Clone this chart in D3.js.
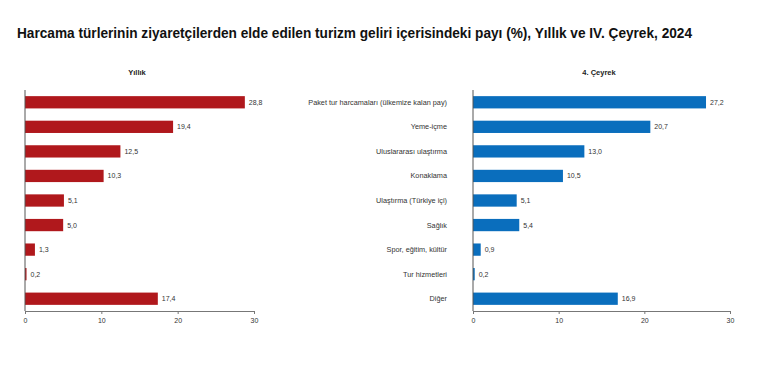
<!DOCTYPE html>
<html><head><meta charset="utf-8">
<script src="https://cdn.jsdelivr.net/npm/d3@7"></script>
<style>body{margin:0;background:#fff}svg{display:block}</style>
</head><body>
<svg id="c" width="765" height="369"></svg>
<script>
const categories = ["Paket tur harcamaları (ülkemize kalan pay)","Yeme-içme","Uluslararası ulaştırma","Konaklama","Ulaştırma (Türkiye içi)","Sağlık","Spor, eğitim, kültür","Tur hizmetleri","Diğer"];
const yillik = [28.8,19.4,12.5,10.3,5.1,5.0,1.3,0.2,17.4];
const ceyrek = [27.2,20.7,13.0,10.5,5.1,5.4,0.9,0.2,16.9];
const ticks = [0,10,20,30];
const title = "Harcama türlerinin ziyaretçilerden elde edilen turizm geliri içerisindeki payı (%), Yıllık ve IV. Çeyrek, 2024";

const svg = d3.select("#c");
svg.append("text").attr("x",17).attr("y",38).text(title)
  .attr("font-family","Liberation Sans Narrow, Arial Narrow, Liberation Sans, sans-serif")
  .attr("font-weight","bold").attr("font-size",15).attr("fill","#111")
  .attr("textLength",675).attr("lengthAdjust","spacingAndGlyphs");

const fmt = v => d3.format(".1f")(v).replace(".",",");

function panel(vals, x0, x1, color, sub, subX, showCats){
  const x = d3.scaleLinear().domain([0,30]).range([x0,x1]);
  const y = d3.scaleBand().domain(categories).range([90,311]).paddingInner(0.5).paddingOuter(0.25);
  const g = svg.append("g");
  g.append("text").attr("x",subX).attr("y",75).attr("text-anchor","middle")
    .attr("font-family","Liberation Sans, Arial, sans-serif").attr("font-weight","bold")
    .attr("font-size",7.5).attr("fill","#222").text(sub);
  g.selectAll("rect").data(vals).join("rect")
    .attr("x",x(0)).attr("y",(d,i)=>y(categories[i]))
    .attr("width",d=>x(d)-x(0)).attr("height",y.bandwidth())
    .attr("fill",color);
  g.selectAll("text.v").data(vals).join("text").attr("class","v")
    .attr("x",d=>x(d)+4).attr("y",(d,i)=>y(categories[i])+y.bandwidth()/2+2.5)
    .attr("font-family","Liberation Sans, Arial, sans-serif").attr("font-size",7)
    .attr("fill","#333").text(fmt);
  if(showCats){
    g.selectAll("text.c").data(categories).join("text").attr("class","c")
      .attr("x",x0-26).attr("y",d=>y(d)+y.bandwidth()/2+2.5).attr("text-anchor","end")
      .attr("font-family","Liberation Sans, Arial, sans-serif").attr("font-size",7.3)
      .attr("fill","#333").text(d=>d);
  }
  const ax = g.append("g").attr("transform",`translate(0,311)`)
    .call(d3.axisBottom(x).tickValues(ticks).tickSize(3).tickFormat(d3.format("d")));
  ax.select(".domain").attr("stroke","#777");
  ax.selectAll(".tick line").attr("stroke","#777");
  ax.selectAll("text").attr("font-family","Liberation Sans, Arial, sans-serif").attr("font-size",7).attr("fill","#333").attr("dy","0.9em");
  g.append("line").attr("x1",x0).attr("x2",x0).attr("y1",90).attr("y2",311).attr("stroke","#555");
}
panel(yillik, 25, 254, "#b0181c", "Yıllık", 137, false);
panel(ceyrek, 473, 730, "#0a6ebd", "4. Çeyrek", 599, true);
</script>
</body></html>
